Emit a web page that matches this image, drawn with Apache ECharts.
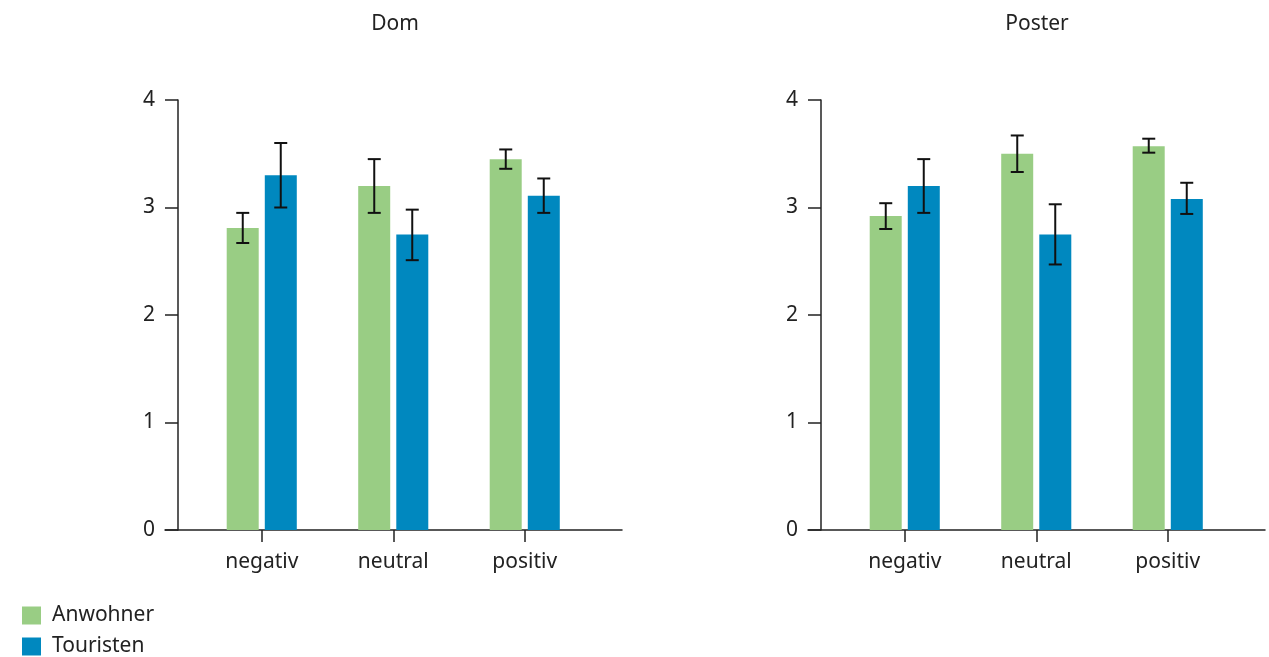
<!DOCTYPE html>
<html>
<head>
<meta charset="utf-8">
<script src="https://cdn.jsdelivr.net/npm/echarts@6/dist/echarts.min.js"></script>
<style>
  html, body { margin: 0; padding: 0; background: #fff; }
  #chart { width: 1269px; height: 657px; }
</style>
</head>
<body>
<div id="chart"></div>
<script>
// data
const categories = ['negativ', 'neutral', 'positiv'];
const panels = ['Dom', 'Poster'];
const groups = ['Anwohner', 'Touristen'];
const yTicks = [0, 1, 2, 3, 4];

const domAnwohner = [2.81, 3.20, 3.45];
const domAnwohnerLow = [2.67, 2.95, 3.36];
const domAnwohnerHigh = [2.95, 3.45, 3.54];
const domTouristen = [3.30, 2.75, 3.11];
const domTouristenLow = [3.00, 2.51, 2.95];
const domTouristenHigh = [3.60, 2.98, 3.27];

const posterAnwohner = [2.92, 3.50, 3.57];
const posterAnwohnerLow = [2.80, 3.33, 3.51];
const posterAnwohnerHigh = [3.04, 3.67, 3.64];
const posterTouristen = [3.20, 2.75, 3.08];
const posterTouristenLow = [2.95, 2.47, 2.94];
const posterTouristenHigh = [3.45, 3.03, 3.23];

const green = '#99cd84';
const blue = '#0088bf';
const ink = '#222';
const font = 'Noto Sans';

const myChart = echarts.init(document.getElementById('chart'));

function errData(low, high) {
  return categories.map((c, i) => [i, low[i], high[i]]);
}

// error bar drawn around the bar centre, shift in px
function errRender(shift) {
  return function (params, api) {
    const c = api.coord([api.value(0), api.value(1)]);
    const h = api.coord([api.value(0), api.value(2)]);
    const x = c[0] + shift;
    const cap = 6.5;
    const st = { stroke: '#111', lineWidth: 2 };
    return {
      type: 'group',
      children: [
        { type: 'line', shape: { x1: x, y1: c[1], x2: x, y2: h[1] }, style: st },
        { type: 'line', shape: { x1: x - cap, y1: c[1], x2: x + cap, y2: c[1] }, style: st },
        { type: 'line', shape: { x1: x - cap, y1: h[1], x2: x + cap, y2: h[1] }, style: st }
      ]
    };
  };
}

const barGrids = [
  { left: 196, width: 394.5, top: 100, bottom: 127 },
  { left: 839, width: 394.5, top: 100, bottom: 127 }
];
const lineGrids = [
  { left: 165, width: 457, top: 100, bottom: 127 },
  { left: 808, width: 457, top: 100, bottom: 127 }
];

const xAxis = [];
const yAxis = [];
[0, 1].forEach(p => {
  xAxis.push({
    gridIndex: p,
    type: 'category',
    data: categories,
    axisLine: { show: false },
    axisTick: { show: true, alignWithLabel: true, length: 12, lineStyle: { color: ink, width: 1.5 } },
    axisLabel: { color: ink, fontSize: 21, fontFamily: font, margin: 22 }
  });
  yAxis.push({
    gridIndex: p,
    type: 'value',
    min: 0,
    max: 4,
    interval: 1,
    offset: 18,
    axisLine: { show: true, lineStyle: { color: ink, width: 1.5 } },
    axisTick: { show: true, length: 13, lineStyle: { color: ink, width: 1.5 } },
    axisLabel: { color: ink, fontSize: 21, fontFamily: font, margin: 23,
      formatter: v => yTicks.includes(v) ? String(v) : '' },
    splitLine: { show: false }
  });
});
[0, 1].forEach(p => {
  xAxis.push({
    gridIndex: 2 + p,
    type: 'value',
    min: 0,
    max: 1,
    axisLine: { show: true, onZero: false, lineStyle: { color: ink, width: 1.5 } },
    axisTick: { show: false },
    axisLabel: { show: false },
    splitLine: { show: false }
  });
  yAxis.push({ gridIndex: 2 + p, type: 'value', min: 0, max: 1, show: false });
});

const sets = [
  [domAnwohner, domAnwohnerLow, domAnwohnerHigh, domTouristen, domTouristenLow, domTouristenHigh],
  [posterAnwohner, posterAnwohnerLow, posterAnwohnerHigh, posterTouristen, posterTouristenLow, posterTouristenHigh]
];

const series = [];
sets.forEach((s, p) => {
  series.push({
    name: groups[0], type: 'bar', xAxisIndex: p, yAxisIndex: p,
    data: s[0], barWidth: 32, barGap: '19%', itemStyle: { color: green }
  });
  series.push({
    name: groups[1], type: 'bar', xAxisIndex: p, yAxisIndex: p,
    data: s[3], barWidth: 32, barGap: '19%', itemStyle: { color: blue }
  });
  series.push({
    type: 'custom', xAxisIndex: p, yAxisIndex: p, z: 5,
    renderItem: errRender(-19), data: errData(s[1], s[2])
  });
  series.push({
    type: 'custom', xAxisIndex: p, yAxisIndex: p, z: 5,
    renderItem: errRender(19), data: errData(s[4], s[5])
  });
});

const legendBase = {
  orient: 'vertical',
  left: 22,
  padding: 0,
  icon: 'rect',
  itemWidth: 19,
  itemHeight: 18,
  textStyle: { fontSize: 21, color: ink, fontFamily: font, padding: [0, 0, 0, 6] }
};

const option = {
  animation: false,
  backgroundColor: '#fff',
  textStyle: { fontFamily: font },
  title: [
    { text: panels[0], left: 390, top: 9, textAlign: 'center',
      textStyle: { fontSize: 21, fontWeight: 'normal', color: ink, fontFamily: font } },
    { text: panels[1], left: 1032, top: 9, textAlign: 'center',
      textStyle: { fontSize: 21, fontWeight: 'normal', color: ink, fontFamily: font } }
  ],
  legend: [
    Object.assign({}, legendBase, { data: [groups[0]], top: 605 }),
    Object.assign({}, legendBase, { data: [groups[1]], top: 636 })
  ],
  grid: barGrids.concat(lineGrids),
  xAxis: xAxis,
  yAxis: yAxis,
  series: series
};

myChart.setOption(option);
window.addEventListener('resize', function () {
  myChart.resize();
});
</script>
</body>
</html>
